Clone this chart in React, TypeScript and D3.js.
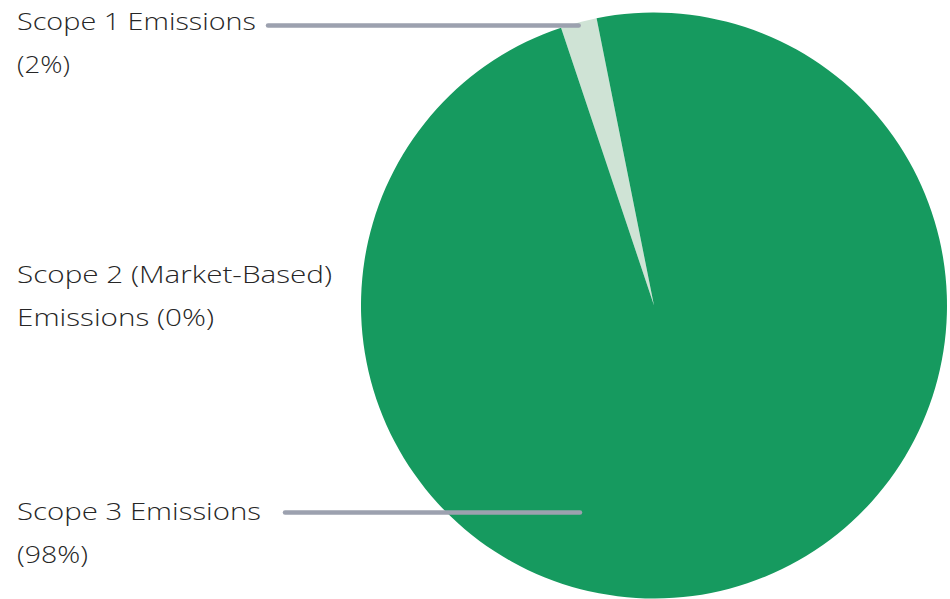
import React, { useEffect } from "react";
import * as d3 from "d3";

const categories = ["Scope 1 Emissions", "Scope 2 (Market-Based) Emissions", "Scope 3 Emissions"];
const values = [2, 0, 98];
const labelLines = [
  ["Scope 1 Emissions", "(2%)"],
  ["Scope 2 (Market-Based)", "Emissions (0%)"],
  ["Scope 3 Emissions", "(98%)"],
];
const colors = ["#cfe3d5", "#0e7a4a", "#169a5f"];

// layout
const W = 950;
const H = 599;
const cx = 654;
const cy = 305.5;
const R = 293;
const startDeg = -18.5;
const labelX = 17;
const labelBaselines = [30, 283, 520];
const lineGap = 43;
const lineWidths = [[239, 53], [315, 197], [244, 71]];
const connectors = [
  { show: true, x0: 268, y: 25.5 },
  { show: false, x0: 0, y: 0 },
  { show: true, x0: 285, y: 512.5 },
];
const scope3ConnectorEnd = 580;

export default function App() {
  useEffect(() => {
    document.body.style.margin = "0";
  }, []);

  const pie = d3
    .pie<number>()
    .sort(null)
    .startAngle((startDeg * Math.PI) / 180)
    .endAngle((startDeg * Math.PI) / 180 + 2 * Math.PI)
    .value((d) => d);
  const arcs = pie(values);
  const arcGen = d3.arc<d3.PieArcDatum<number>>().innerRadius(0).outerRadius(R);

  const connectorEnd = (i: number) => {
    const a = arcs[i];
    const mid = (a.startAngle + a.endAngle) / 2;
    if (i === 0) return [cx + R * Math.sin(mid), cy - R * Math.cos(mid)];
    return [scope3ConnectorEnd, connectors[i].y];
  };

  return (
    <svg width={W} height={H} style={{ display: "block" }}>
      <g>
        {arcs.map((a, i) =>
          a.value > 0 ? (
            <path key={categories[i]} d={arcGen(a) || ""} fill={colors[i]} transform={`translate(${cx},${cy})`} />
          ) : null
        )}
      </g>
      <g>
        {connectors.map((c, i) => {
          if (!c.show) return null;
          const [ex] = connectorEnd(i);
          return (
            <line
              key={"c" + i}
              x1={c.x0}
              y1={c.y}
              x2={ex}
              y2={c.y}
              stroke="#9ca1af"
              strokeWidth={4.5}
              strokeLinecap="round"
            />
          );
        })}
      </g>
      <g fontFamily="'Open Sans', sans-serif" fontSize={23.5} fontWeight={300} fill="#262626">
        {labelLines.map((lines, i) =>
          lines.map((t, j) => (
            <text
              key={i + "-" + j}
              x={labelX}
              y={labelBaselines[i] + j * lineGap}
              textLength={lineWidths[i][j]}
              lengthAdjust="spacingAndGlyphs"
            >
              {t}
            </text>
          ))
        )}
      </g>
    </svg>
  );
}
